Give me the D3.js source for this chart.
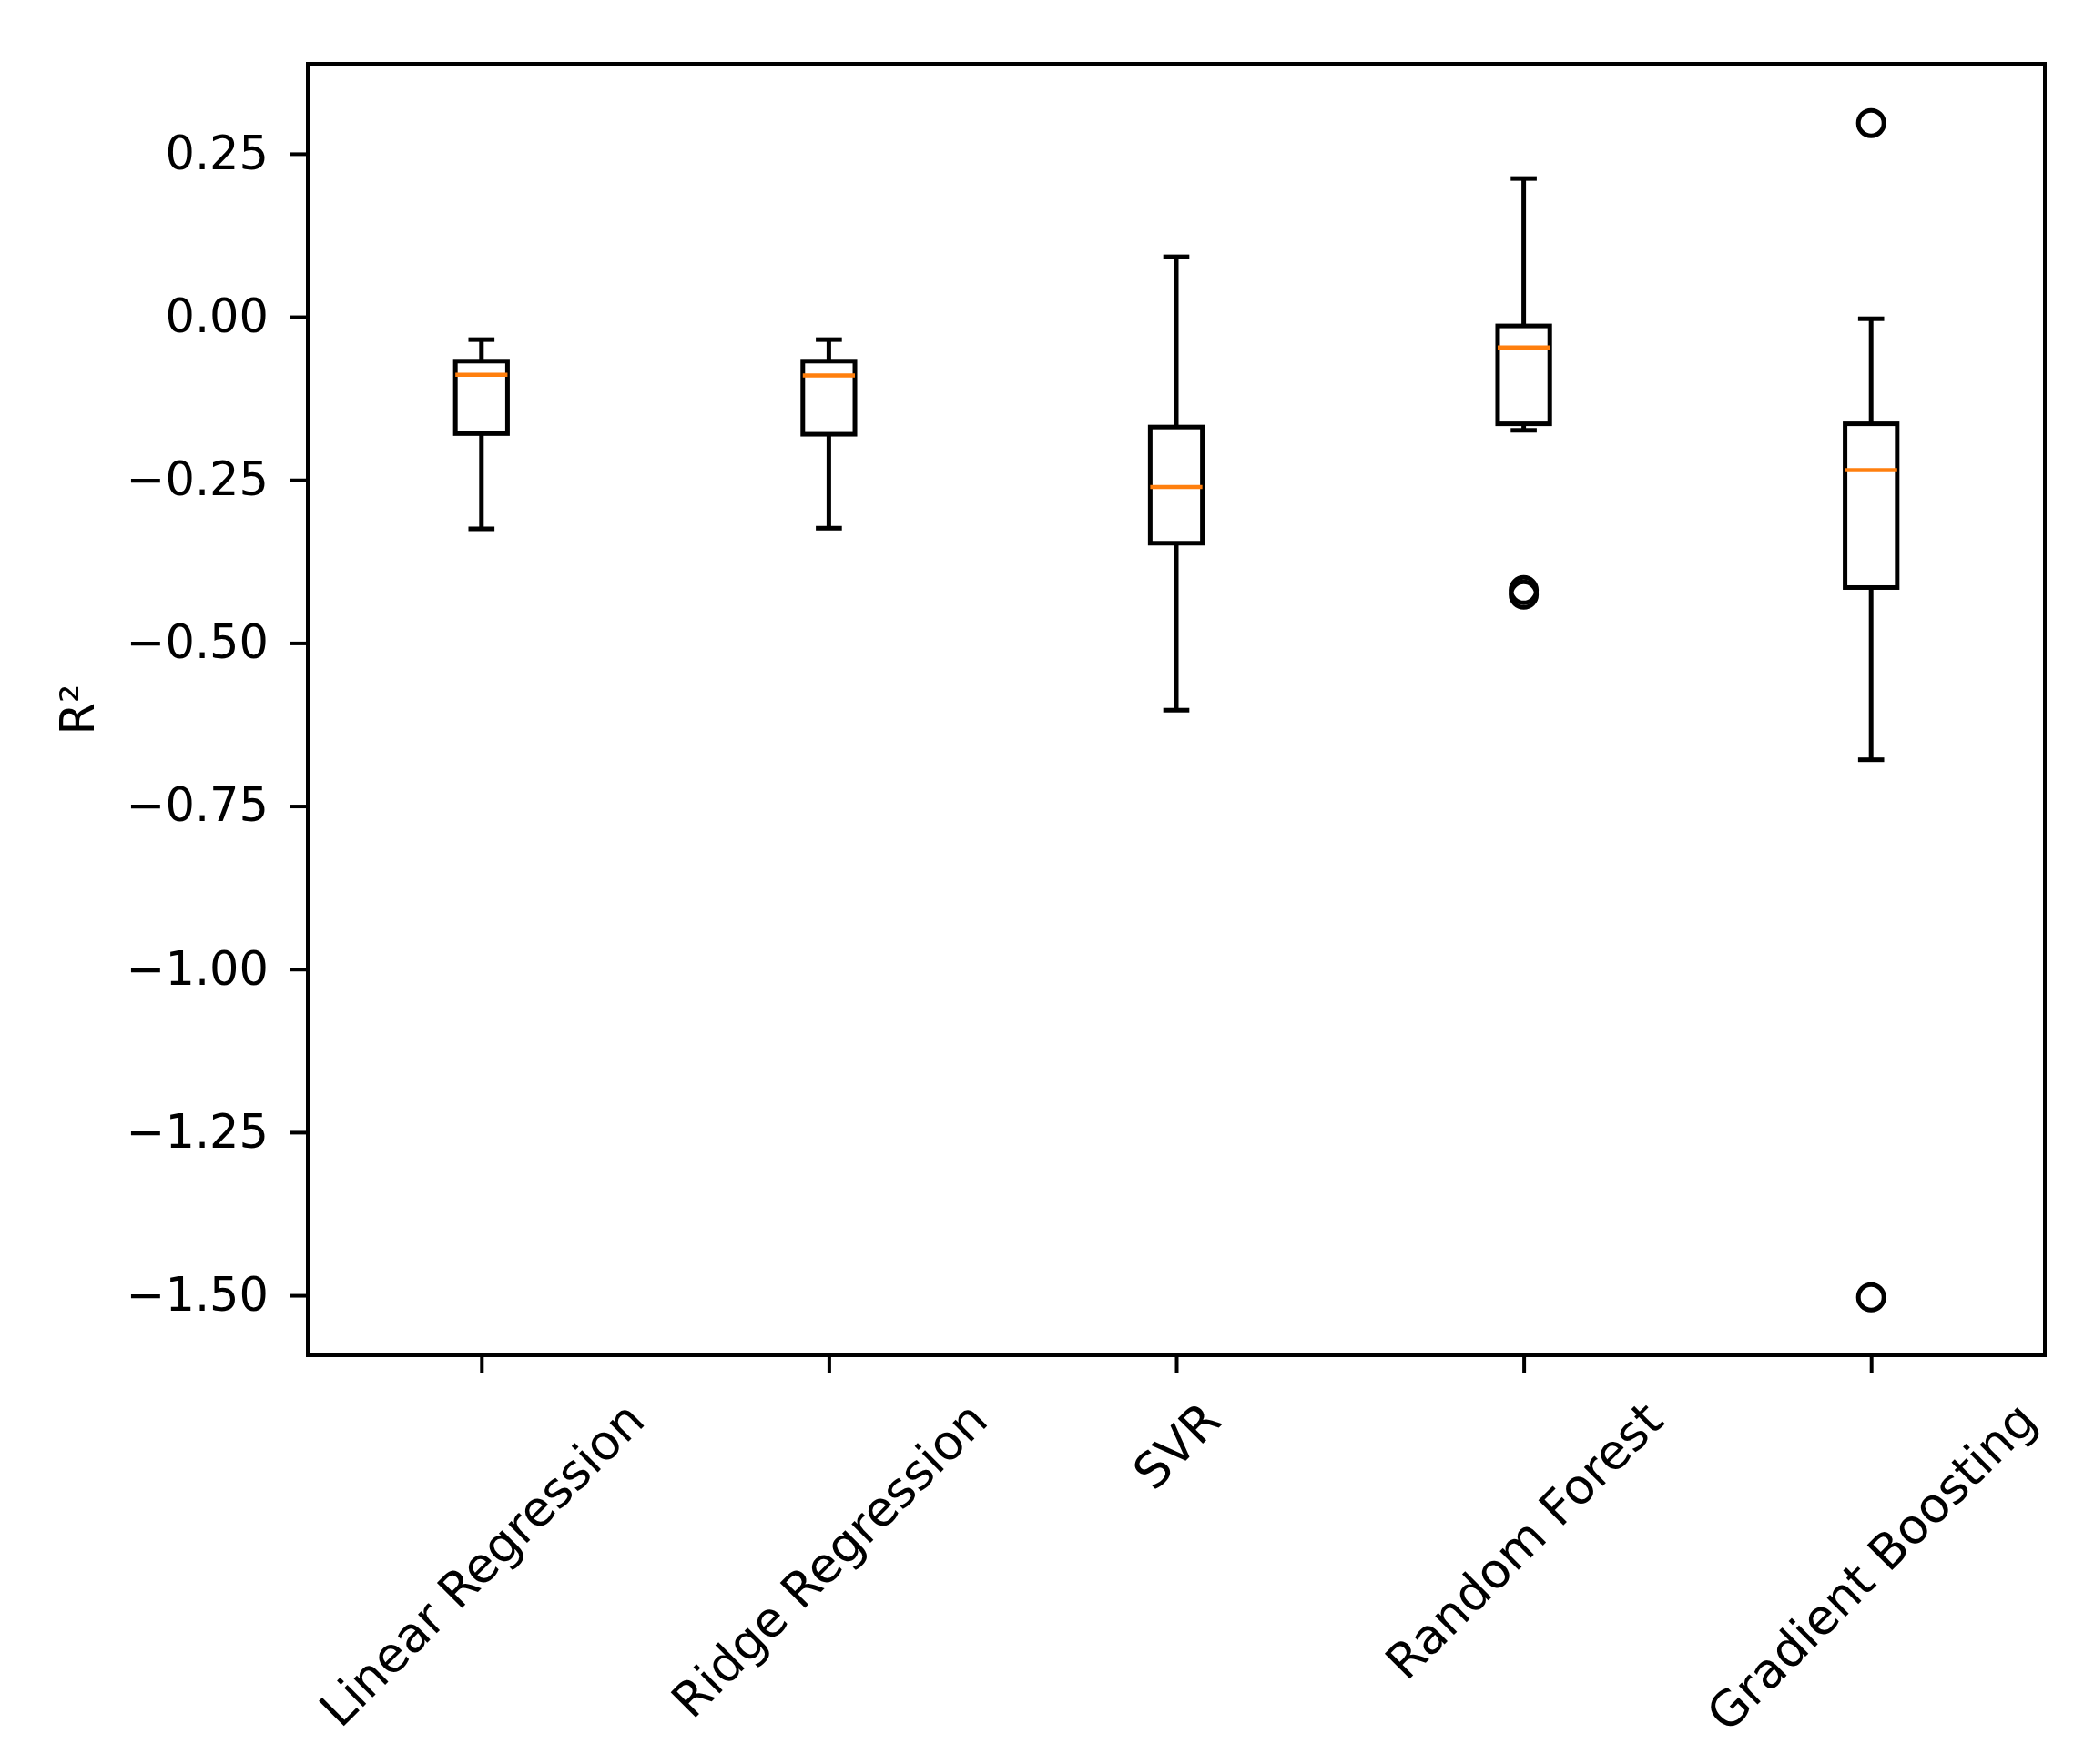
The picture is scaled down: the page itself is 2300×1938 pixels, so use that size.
<!DOCTYPE html>
<html>
<head>
<meta charset="utf-8">
<script src="https://cdn.jsdelivr.net/npm/d3@7"></script>
<style>
  body { margin: 0; background: #fff; }
  svg text { font-family: "DejaVu Sans", sans-serif; fill: #000; }
</style>
</head>
<body>
<script>
// R² scores per model
const categories = ["Linear Regression", "Ridge Regression", "SVR", "Random Forest", "Gradient Boosting"];
const whiskerLow  = [-0.325, -0.324, -0.603, -0.174, -0.679];
const q1          = [-0.179, -0.180, -0.347, -0.164, -0.415];
const median      = [-0.089, -0.090, -0.261, -0.047, -0.235];
const q3          = [-0.068, -0.068, -0.169, -0.014, -0.164];
const whiskerHigh = [-0.035, -0.035,  0.092,  0.212, -0.003];
const outliers    = [[], [], [], [-0.419, -0.426], [0.297, -1.503]];
const yTicks = [0.25, 0, -0.25, -0.5, -0.75, -1.0, -1.25, -1.5];

const W = 2300, H = 1938;
const plotLeft = 338, plotRight = 2246, plotTop = 70, plotBottom = 1489;
const fontSize = 51, xFontSize = 53.5;

const svg = d3.select("body").append("svg")
  .attr("width", W).attr("height", H);

const x = d3.scaleLinear([0.5, categories.length + 0.5], [plotLeft, plotRight]);
const y = d3.scaleLinear([-1.592, 0.388], [plotBottom, plotTop]);

const boxW = 0.15, capW = 0.075;
const g = svg.append("g");

categories.forEach((c, i) => {
  const p = i + 1;
  const b = g.append("g").attr("stroke", "#000").attr("stroke-width", 5).attr("fill", "none");
  // whiskers
  b.append("line").attr("x1", x(p)).attr("x2", x(p)).attr("y1", y(q1[i])).attr("y2", y(whiskerLow[i]));
  b.append("line").attr("x1", x(p)).attr("x2", x(p)).attr("y1", y(q3[i])).attr("y2", y(whiskerHigh[i]));
  // caps
  for (const v of [whiskerLow[i], whiskerHigh[i]]) {
    b.append("line").attr("x1", x(p - capW / 2)).attr("x2", x(p + capW / 2))
      .attr("y1", y(v)).attr("y2", y(v));
  }
  // box
  b.append("rect")
    .attr("x", x(p - boxW / 2)).attr("width", x(p + boxW / 2) - x(p - boxW / 2))
    .attr("y", y(q3[i])).attr("height", y(q1[i]) - y(q3[i]))
    .attr("fill", "#fff");
  // median
  g.append("line").attr("x1", x(p - boxW / 2)).attr("x2", x(p + boxW / 2))
    .attr("y1", y(median[i])).attr("y2", y(median[i]))
    .attr("stroke", "#ff7f0e").attr("stroke-width", 4.5);
  // fliers
  g.selectAll(null).data(outliers[i]).join("circle")
    .attr("cx", x(p)).attr("cy", d => y(d)).attr("r", 14)
    .attr("fill", "none").attr("stroke", "#000").attr("stroke-width", 5);
});

// y axis
const gy = svg.append("g")
  .attr("transform", `translate(${plotLeft},0)`)
  .call(d3.axisLeft(y).tickValues(yTicks).tickFormat(d3.format(".2f"))
    .tickSize(19).tickPadding(24));
gy.select(".domain").remove();
gy.selectAll(".tick line").attr("stroke", "#000").attr("stroke-width", 4);
gy.selectAll(".tick text").attr("font-size", fontSize).attr("font-family", "DejaVu Sans");

// x axis
const gx = svg.append("g")
  .attr("transform", `translate(0,${plotBottom})`)
  .call(d3.axisBottom(x).tickValues(d3.range(1, categories.length + 1))
    .tickFormat(d => categories[d - 1]).tickSize(19));
gx.select(".domain").remove();
gx.selectAll(".tick line").attr("stroke", "#000").attr("stroke-width", 4);
gx.selectAll(".tick text")
  .attr("font-size", xFontSize).attr("font-family", "DejaVu Sans")
  .attr("text-anchor", "middle").attr("dominant-baseline", "central")
  .attr("y", 0).attr("dy", null)
  .each(function () {
    const bb = this.getBBox();
    const s = (bb.width + bb.height) / (2 * Math.SQRT2);
    d3.select(this).attr("transform", `translate(0,${19 + 20 + s}) rotate(-45)`);
  });

// frame
svg.append("rect")
  .attr("x", plotLeft).attr("y", plotTop)
  .attr("width", plotRight - plotLeft).attr("height", plotBottom - plotTop)
  .attr("fill", "none").attr("stroke", "#000").attr("stroke-width", 4);

// y label
svg.append("text")
  .attr("transform", `translate(103,${(plotTop + plotBottom) / 2}) rotate(-90)`)
  .attr("text-anchor", "middle")
  .attr("font-size", fontSize)
  .text("R²");
</script>
</body>
</html>
